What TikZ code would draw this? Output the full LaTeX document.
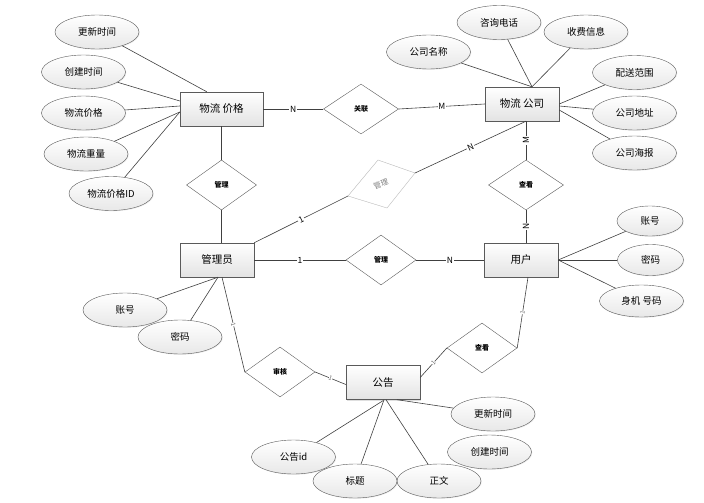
\documentclass[tikz,border=0pt]{standalone}
\usepackage{fontspec}
\setmainfont{Noto Sans CJK SC}
\usetikzlibrary{shapes.geometric,calc,shadows}
\definecolor{edgec}{HTML}{404040}
\definecolor{bordc}{HTML}{5A5A5A}
\begin{document}
\begin{tikzpicture}[x=1pt,y=-1pt,
  ent/.style={draw=bordc, rectangle, top color=white, bottom color=gray!22, minimum width=74pt, minimum height=34pt, inner sep=0pt, font=\fontsize{10.5}{12}\selectfont, drop shadow={opacity=0.25, shadow xshift=1.2pt, shadow yshift=-1.2pt}},
  attr/.style={draw=bordc, ellipse, top color=white, bottom color=gray!18, minimum width=84pt, minimum height=34pt, inner sep=0pt, font=\fontsize{9.5}{11}\selectfont, drop shadow={opacity=0.15, shadow xshift=0.8pt, shadow yshift=-0.8pt}},
  rel/.style={draw=bordc, diamond, fill=white, minimum width=70pt, minimum height=50pt, inner sep=0pt, font=\fontsize{7}{8}\selectfont\bfseries},
  conn/.style={draw=edgec, line width=0.6pt},
  card/.style={fill=white, inner sep=0.8pt, font=\fontsize{8.5}{9}\selectfont},
  tick/.style={inner sep=0pt, font=\fontsize{6}{6}\selectfont, text=gray!80!black, fill=white}
]
\useasboundingbox (0,0) rectangle (704,503);

% entities
\node[ent, minimum width=83pt] (P) at (221.5,109) {物流 价格};
\node[ent] (C) at (522,104) {物流 公司};
\node[ent] (M) at (217,260) {管理员};
\node[ent] (U) at (521,260) {用户};
\node[ent] (A) at (383,382.5) {公告};

% relations
\node[rel, minimum width=75pt] (gl) at (361,109) {关联};
\node[rel] (g1) at (221.5,185) {管理};
\node[rel, minimum width=75pt] (ck1) at (526,185) {查看};
\node[rel] (g3) at (381,260) {管理};
\node[rel] (sh) at (280,372) {审核};
\node[rel] (ck2) at (482,348) {查看};

% gray skewed relation
\coordinate (gt) at (378,160);
\coordinate (gr) at (415,173);
\coordinate (gb) at (387,208);
\coordinate (gL) at (348,196);
\filldraw[draw=gray!55, fill=white] (gt) -- (gr) -- (gb) -- (gL) -- cycle;
\node[rotate=20, inner sep=0pt, text=gray, font=\fontsize{7.5}{8}\selectfont] (gg) at (381,184) {管理};

% attributes of 物流价格
\node[attr] (a1) at (97,32) {更新时间};
\node[attr] (a2) at (83.5,72) {创建时间};
\node[attr] (a3) at (83.5,113) {物流价格};
\node[attr] (a4) at (86,154) {物流重量};
\node[attr] (a5) at (111,193.5) {物流价格ID};

% attributes of 物流公司
\node[attr] (c1) at (499,22.5) {咨询电话};
\node[attr] (c2) at (586,32) {收费信息};
\node[attr] (c3) at (428.5,52) {公司名称};
\node[attr] (c4) at (634.5,72.5) {配送范围};
\node[attr] (c5) at (634.5,113) {公司地址};
\node[attr] (c6) at (634.5,153) {公司海报};

% attributes of 用户
\node[attr, minimum width=66pt, minimum height=30pt] (u1) at (650,221) {账号};
\node[attr, minimum width=66pt, minimum height=31pt] (u2) at (650.5,260) {密码};
\node[attr, minimum height=32pt] (u3) at (641.5,301) {身机 号码};

% attributes of 管理员
\node[attr] (m1) at (125,310) {账号};
\node[attr] (m2) at (180,337) {密码};

% attributes of 公告
\node[attr] (b1) at (493,414) {更新时间};
\node[attr] (b5) at (489.5,452) {创建时间};
\node[attr] (b3) at (439,481) {正文};
\node[attr] (b2) at (355,481) {标题};
\node[attr] (b4) at (293.5,457) {公告id};

% attribute connectors
\draw[conn] (a1) -- ($(P.north west)+(27,0)$);
\draw[conn] (a2) -- ($(P.west)+(0,-8)$);
\draw[conn] (a3) -- ($(P.west)+(0,-3)$);
\draw[conn] (a4) -- ($(P.west)+(0,3)$);
\draw[conn] (a5) -- ($(P.west)+(0,3)$);

\draw[conn] (c3) -- ($(C.north)+(10,0)$);
\draw[conn] (c1) -- ($(C.north)+(10,0)$);
\draw[conn] (c2) -- ($(C.north)+(10,0)$);
\draw[conn] (c4) -- ($(C.east)+(0,0)$);
\draw[conn] (c5) -- ($(C.east)+(0,2)$);
\draw[conn] (c6) -- ($(C.east)+(0,6)$);

\draw[conn] (u1) -- (U.east);
\draw[conn] (u2) -- (U.east);
\draw[conn] (u3) -- (U.east);

\draw[conn] (m1) -- ($(M.south)+(1,0)$);
\draw[conn] (m2) -- ($(M.south)+(1,0)$);

\draw[conn] (b1) -- ($(A.south)+(14,0)$);
\draw[conn] (b3) -- ($(A.south)+(3,0)$);
\draw[conn] (b2) -- ($(A.south)+(1,0)$);
\draw[conn] (b4) -- ($(A.south)+(0,1)$);

% relationship connectors
\draw[conn] (P.east) -- node[card, pos=0.5] {N} (gl.west);
\draw[conn] (gl.east) -- node[card, pos=0.5] {M} (C.west);
\draw[conn] (P.south) -- (g1.north);
\draw[conn] (g1.south) -- ($(M.north)+(4.5,0)$);

\draw[conn] ($(C.south)+(4,0)$) -- node[card, rotate=90, pos=0.5] {M} (ck1.north);
\draw[conn] (ck1.south) -- node[card, rotate=90, pos=0.5] {N} ($(U.north)+(5,0)$);

\draw[conn] (M.north east) -- node[card, sloped, pos=0.5] {1} (gL);
\draw[conn] (gr) -- node[card, sloped, pos=0.5] {N} ($(C.south)+(4,0)$);

\draw[conn] (M.east) -- node[card, pos=0.5] {1} (g3.west);
\draw[conn] (g3.east) -- node[card, pos=0.5] {N} (U.west);

\draw[conn] ($(M.south)+(5,0)$) -- node[tick, sloped, pos=0.5] {1} (sh.west);
\draw[conn] (sh.east) -- node[tick, sloped, pos=0.5] {1} ($(A.west)+(0,2)$);
\draw[conn] ($(A.east)+(0,-5)$) -- node[tick, sloped, pos=0.5] {1} (ck2.west);
\draw[conn] (ck2.east) -- node[tick, sloped, pos=0.5] {1} ($(U.south)+(7,0)$);
\end{tikzpicture}
\end{document}
